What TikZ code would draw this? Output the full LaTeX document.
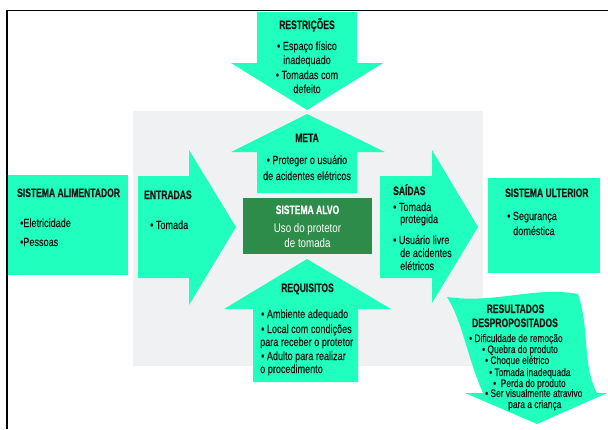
\documentclass[tikz,border=0pt]{standalone}
\usepackage{fontspec}
\setmainfont{Liberation Sans}[FakeStretch=0.78]
\newfontfamily\bodyfnt{Liberation Sans}[FakeStretch=0.77, FakeBold=0.25]
\newfontfamily\headfnt{Liberation Sans}[FakeStretch=0.70, FakeBold=0.4]
\definecolor{mint}{RGB}{32,255,190}
\definecolor{alvo}{RGB}{46,140,74}
\definecolor{panel}{RGB}{240,241,243}
\definecolor{ink}{RGB}{22,22,22}
\tikzset{
  shapefill/.style={fill=mint, draw=none},
  lbl/.style={inner sep=0pt, text=ink, font=\bodyfnt\fontsize{11.8}{13}\selectfont},
  hd/.style={inner sep=0pt, text=ink, font=\headfnt\fontsize{12.2}{13}\selectfont\bfseries},
  rs/.style={inner sep=0pt, text=ink, font=\bodyfnt\fontsize{10.9}{11}\selectfont},
  frameline/.style={draw=black, line width=1.6pt},
}
\begin{document}
\begin{tikzpicture}[x=1pt,y=-1pt]
\useasboundingbox (0,0) rectangle (608,429);
\fill[white] (0,0) rectangle (608,429);
% frame
\draw[frameline] (7,429) -- (7,10.5) -- (608,10.5);
% grey panel
\fill[panel] (133,111) rectangle (483,366);
% side boxes
\fill[mint] (8,175) rectangle (128,275);
\fill[mint] (488,178) rectangle (600,273);
% restricoes (down)
\path[shapefill] (257,12) -- (357,12) -- (357,63) -- (383,63) -- (307,110) -- (231,63) -- (257,63) -- cycle;
% meta (up)
\path[shapefill] (307,114) -- (385,152) -- (357,152) -- (357,193) -- (257,193) -- (257,152) -- (231,152) -- cycle;
% requisitos (up)
\path[shapefill] (307,259) -- (391,309) -- (358,309) -- (358,382) -- (253,382) -- (253,309) -- (224,309) -- cycle;
% entradas (right)
\path[shapefill] (138,176) -- (189,176) -- (189,150) -- (236,227) -- (189,305) -- (189,278) -- (138,278) -- cycle;
% saidas (right)
\path[shapefill] (380,176) -- (432,176) -- (432,150) -- (478,227) -- (432,303) -- (432,278) -- (380,278) -- cycle;
% resultados (wavy down)
\path[shapefill] (447,297) .. controls (495,304) and (535,286) .. (578,294)
  .. controls (590,330) and (582,365) .. (597,393) -- (607,393) -- (537,424) -- (465,393) -- (483,393)
  .. controls (468,360) and (462,320) .. (447,297) -- cycle;
% sistema alvo
\fill[alvo] (243,198) rectangle (372,254);

% --- texts ---
\node[hd, anchor=base] (restr-h) at (307,29) {RESTRIÇÕES};
\foreach \t/\yy [count=\i] in {{• Espaço físico}/50,{inadequado}/64,{• Tomadas com}/79,{defeito}/93}
  \node[lbl, anchor=base] (restr-\i) at (307,\yy) {\t};

\node[hd, anchor=base] (meta-h) at (307,142) {META};
\foreach \t/\yy [count=\i] in {{• Proteger o usuário}/164,{de acidentes elétricos}/180}
  \node[lbl, anchor=base] (meta-\i) at (307,\yy) {\t};

\node[hd, anchor=base, text=white] (alvo-h) at (307.5,214) {SISTEMA ALVO};
\foreach \t/\yy [count=\i] in {{Uso do protetor}/232,{de tomada}/247}
  \node[lbl, anchor=base, text=white, font=\fontsize{12.5}{14}\selectfont] (alvo-\i) at (307.5,\yy) {\t};

\node[hd, anchor=base] (req-h) at (307.5,292) {REQUISITOS};
\foreach \t/\xx/\yy [count=\i] in {{• Ambiente adequado}/261/318,{• Local com condições}/261/333,{para receber o protetor}/260/346,{• Adulto para realizar}/261/360,{o procedimento}/260/373}
  \node[lbl, anchor=base west] (req-\i) at (\xx,\yy) {\t};

\node[hd, anchor=base west] (ent-h) at (144,199) {ENTRADAS};
\node[lbl, anchor=base west] (ent-1) at (150,229) {• Tomada};

\node[hd, anchor=base west] (alim-h) at (17,197) {SISTEMA ALIMENTADOR};
\node[lbl, anchor=base west] (alim-1) at (20,227) {•Eletricidade};
\node[lbl, anchor=base west] (alim-2) at (20,246) {•Pessoas};

\node[hd, anchor=base west] (sai-h) at (393,195) {SAÍDAS};
\foreach \t/\xx/\yy [count=\i] in {{• Tomada}/393/211,{protegida}/400/223,{• Usuário livre}/393/244,{de acidentes}/400/257,{elétricos}/400/270}
  \node[lbl, anchor=base west] (sai-\i) at (\xx,\yy) {\t};

\node[hd, anchor=base west] (ult-h) at (505,197) {SISTEMA ULTERIOR};
\node[lbl, anchor=base west] (ult-1) at (507,220) {• Segurança};
\node[lbl, anchor=base west] (ult-2) at (513,235) {doméstica};

\node[hd, anchor=base] (res-h1) at (515.5,313) {RESULTADOS};
\node[hd, anchor=base] (res-h2) at (515,327) {DESPROPOSITADOS};
\foreach \t/\xx/\yy [count=\i] in {{• Dificuldade de remoção}/469/342,{• Quebra do produto}/482/353,{• Choque elétrico}/485/364,{• Tomada inadequada}/489/376,{•\ \ Perda do produto}/493/387,{• Ser visualmente atravivo}/485/397,{para a criança}/508/408}
  \node[rs, anchor=base west] (res-\i) at (\xx,\yy) {\t};
\end{tikzpicture}
\end{document}
